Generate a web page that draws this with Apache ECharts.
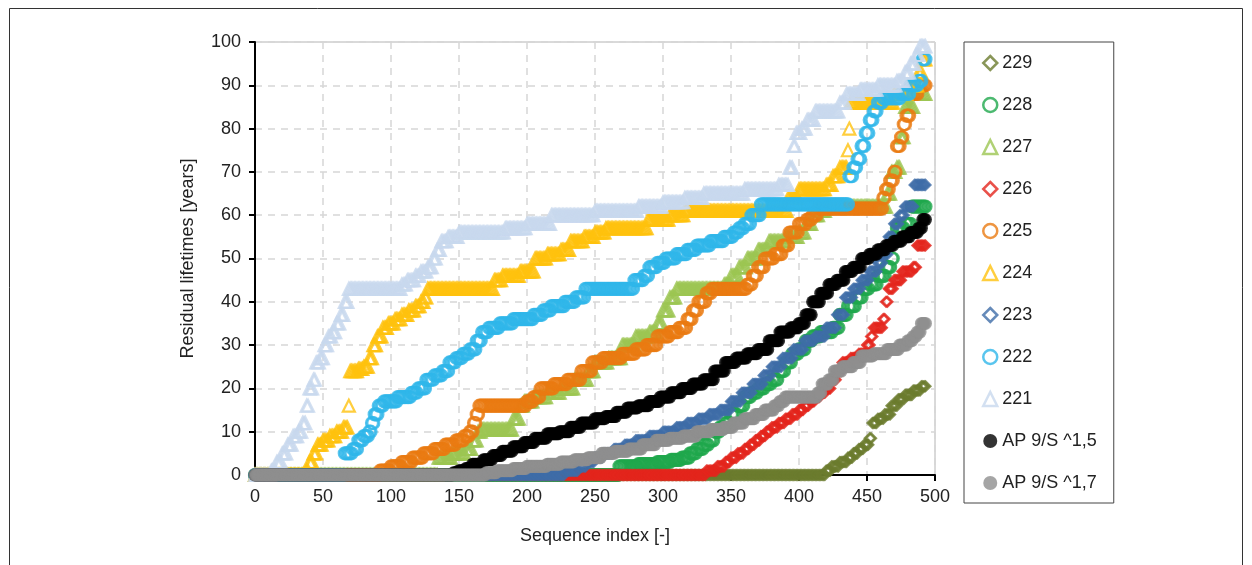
<!DOCTYPE html>
<html><head><meta charset="utf-8">
<script src="https://cdn.jsdelivr.net/npm/echarts/dist/echarts.min.js"></script>
<style>html,body{margin:0;padding:0;background:#fff}#c{width:1252px;height:565px}</style>
</head><body><div id="c"></div>
<script>
// ---- DATA (step runs: [startIndex, value]; value holds until next run start) ----
const seriesNames = ['229','228','227','226','225','224','223','222','221','AP 9/S ^1,5','AP 9/S ^1,7'];
const xTickLabels = [0,50,100,150,200,250,300,350,400,450,500];
const yTickLabels = [0,10,20,30,40,50,60,70,80,90,100];
const lastIndex = 493;

const s229 = [[0,0],[420,1],[424,2],[430,3],[436,4],[440,5],[444,6],[448,7],[452,8.5],[454,12],[458,13],[463,14],[468,16],[473,17.5],[478,18.5],[484,19.5],[490,20.5]];
const s228 = [[0,0],[268,2],[282,2.5],[296,3],[306,3.5],[314,4],[320,5],[325,6],[330,7],[334,8],[338,10],[342,11],[346,12],[350,14],[355,16],[360,18],[365,19],[370,20],[375,21],[380,22],[385,24],[390,26],[395,28],[400,29],[405,31],[410,32],[416,33],[425,34],[430,37],[436,39],[442,41],[447,43],[452,44],[458,46],[464,48],[468,50],[470,54],[472,57],[478,58],[483,62]];
const s227 = [[0,0],[135,4],[145,5],[155,6],[160,8],[164,10],[167,10.5],[190,13],[195,16],[198,17],[205,18],[215,19],[225,20],[235,22],[245,24],[250,26],[260,27],[270,30],[280,32],[290,33],[296,35],[300,38],[305,41],[310,43],[345,44],[350,46],[356,48],[362,50],[370,52],[378,54],[390,55],[400,56],[405,58],[410,60],[415,61],[420,62],[465,65],[468,70],[472,71],[475,78],[478,85],[485,88]];
const s226 = [[0,0],[332,1],[340,2],[346,3],[350,4],[355,5],[360,6],[364,7],[368,8],[372,9],[376,10],[380,11],[385,12],[390,13],[395,14],[400,15],[404,16],[408,17],[412,18],[416,19],[420,20],[424,22],[428,24],[432,26],[438,27],[444,28],[450,30],[453,32],[455,34],[462,36],[464,40],[466,43],[470,45],[476,47],[484,48],[487,53]];
const s225 = [[0,0],[92,1],[100,2],[108,3],[116,4],[124,5],[132,6],[140,7],[148,8],[154,9],[158,10],[161,12],[163,14],[165,16],[200,17],[205,18],[210,20],[220,21],[230,22],[240,24],[248,26],[256,27],[270,28],[280,29],[288,30],[296,32],[305,33],[312,34],[318,36],[322,38],[326,40],[332,42],[336,43],[362,44],[366,46],[370,48],[375,50],[382,51],[388,53],[393,56],[400,58],[406,59],[410,60],[414,61.5],[462,64],[464,66],[467,68],[470,70],[472,76],[475,78],[477,81],[479,83],[482,88],[488,90]];
const s224 = [[0,0],[38,1],[40,3],[43,5],[46,7],[50,8],[55,9],[60,10],[65,11],[69,16],[70,24],[76,24.5],[80,25],[84,27],[87,30],[90,32],[94,34],[98,35],[103,36],[108,37],[113,38],[118,39],[122,40],[125,41],[127,43],[176,45],[182,46],[195,47],[206,50],[215,51],[225,52],[232,54],[242,55],[250,56],[258,57],[289,59],[305,60],[316,61],[392,64],[400,66],[420,67],[425,69],[430,71],[436,75],[437,80],[438,86],[470,88],[480,90],[488,93],[491,96]];
const s223 = [[0,0],[228,1],[238,2],[244,3],[250,4],[256,5],[264,6],[272,7],[280,8],[290,9],[300,10],[310,11],[318,12],[326,13],[334,14],[342,15],[350,17],[358,19],[366,21],[374,23],[380,25],[388,27],[396,29],[404,31],[412,32],[420,34],[428,37],[434,41],[440,43],[446,45],[452,47],[458,49],[462,51],[466,55],[470,58],[474,60],[478,62],[485,67]];
const s222 = [[0,0],[66,5],[72,6],[76,8],[80,9],[84,10],[86,12],[88,14],[91,16],[95,17],[105,18],[115,19],[120,20],[126,22],[132,23],[138,24],[143,26],[148,27],[153,28],[158,29],[163,31],[167,33],[172,34],[180,35],[190,36],[205,37],[212,38],[218,39],[228,40],[236,41],[243,43],[279,45],[286,46],[290,48],[296,49],[302,50],[310,51],[318,52],[325,53],[335,54],[345,55],[352,56],[356,57],[360,58],[365,60],[372,62.5],[437,69],[440,71],[443,73],[446,76],[449,79],[452,82],[455,84],[458,86],[462,87],[475,88],[482,90],[488,91],[491,96]];
const s221 = [[0,0],[12,1],[16,3],[20,5],[24,7],[28,9],[32,10],[35,12],[38,16],[40,20],[43,22],[45,26],[48,27],[51,30],[54,32],[57,33],[60,35],[63,37],[66,40],[69,43],[108,44],[112,45],[118,46],[122,47],[127,48],[131,50],[134,52],[137,54],[142,55],[150,56],[184,57],[200,58],[218,60],[250,61],[282,62],[300,63],[316,64],[330,65],[360,66],[385,67],[393,71],[396,76],[398,79],[402,80],[406,82],[412,84],[430,86],[435,88],[445,89],[458,90],[472,91],[478,93],[482,95],[486,97],[489,99]];
const sAP15 = [[0,0],[146,0.5],[150,1],[155,1.5],[160,2.5],[168,3.5],[175,4.5],[182,5.5],[190,6.5],[198,7.5],[206,8.5],[215,9.5],[224,10],[232,11],[240,12],[250,13],[258,13.5],[266,14.5],[274,15.5],[282,16],[290,17],[298,18],[306,19],[314,20],[322,21],[330,22],[338,24],[346,26],[354,27],[362,28],[370,29],[378,31],[386,33],[394,34],[400,35],[405,37],[410,40],[416,42],[422,44],[428,45],[434,47],[440,48],[446,50],[452,51],[458,52],[464,53],[470,54],[476,55],[482,56],[488,57],[491,59]];
const sAP17 = [[0,0],[170,0.5],[178,1],[190,1.5],[200,2],[215,2.5],[225,3],[235,3.5],[245,4],[255,5],[265,5.5],[275,6],[285,7],[295,8],[305,8.5],[315,9],[325,10],[335,10.5],[345,11],[352,12],[360,13],[368,14],[375,15],[382,16],[386,17],[390,18],[414,19],[417,21],[422,22],[426,24],[432,25],[440,26],[446,27.5],[455,28],[465,29],[474,30],[480,31],[484,32],[487,33],[490,35]];
const seriesRuns = [s229,s228,s227,s226,s225,s224,s223,s222,s221,sAP15,sAP17];

// ---- STYLE ----
const colors = ['#6c7c2e','#1fa84c','#9cc553','#e3261d','#ea7b12','#ffc20e','#3e6da8','#2fb6ea','#c8d8ed','#000000','#8e8e8e'];
const symbols = ['diamond','circle','triangle','diamond','circle','triangle','diamond','circle','triangle','circle','circle'];
const hollow = [true,true,true,true,true,true,true,true,true,false,false];
const sizes = [10,12,12,10,12,12,10,12,12,13,13];
const FONT = '"Liberation Sans", Arial, sans-serif';

function expand(runs, last) {
  const pts = [];
  for (let k = 0; k < runs.length; k++) {
    const start = runs[k][0];
    const end = k + 1 < runs.length ? runs[k + 1][0] - 1 : last;
    for (let i = start; i <= end; i++) pts.push([i, runs[k][1]]);
  }
  return pts;
}

const series = seriesNames.map((name, i) => ({
  name: name,
  type: 'scatter',
  clip: false,
  symbol: symbols[i],
  symbolSize: sizes[i],
  itemStyle: hollow[i]
    ? { color: 'rgba(255,255,255,0)', borderColor: colors[i], borderWidth: 2.2 }
    : { color: colors[i], borderWidth: 0 },
  emphasis: { disabled: true },
  data: expand(seriesRuns[i], lastIndex)
}));

const chart = echarts.init(document.getElementById('c'), null, { renderer: 'canvas' });
chart.setOption({
  animation: false,
  backgroundColor: '#fff',
  textStyle: { fontFamily: FONT },
  grid: { left: 255, right: 317, top: 42, bottom: 90, show: true, borderColor: '#b4b4b4', borderWidth: 1, backgroundColor: 'transparent' },
  xAxis: {
    type: 'value', min: xTickLabels[0], max: xTickLabels[xTickLabels.length - 1], interval: xTickLabels[1] - xTickLabels[0],
    name: 'Sequence index [-]', nameLocation: 'middle', nameGap: 52,
    nameTextStyle: { fontSize: 18, color: '#222', fontFamily: FONT },
    axisLine: { show: true, onZero: false, lineStyle: { color: '#000', width: 2 } },
    axisTick: { show: true, inside: false, length: 6, lineStyle: { color: '#000', width: 2 } },
    axisLabel: { fontSize: 18, color: '#222', margin: 13, fontFamily: FONT },
    splitLine: { show: true, lineStyle: { color: '#d6d6d6', width: 1.5, type: [7, 6] } }
  },
  yAxis: {
    type: 'value', min: yTickLabels[0], max: yTickLabels[yTickLabels.length - 1], interval: yTickLabels[1] - yTickLabels[0],
    name: 'Residual lifetimes [years]', nameLocation: 'middle', nameGap: 58, nameRotate: 90,
    nameTextStyle: { fontSize: 18, color: '#222', fontFamily: FONT },
    axisLine: { show: true, onZero: false, lineStyle: { color: '#000', width: 2 } },
    axisTick: { show: true, inside: false, length: 6, lineStyle: { color: '#000', width: 2 } },
    axisLabel: { fontSize: 18, color: '#222', margin: 14, fontFamily: FONT },
    splitLine: { show: true, lineStyle: { color: '#d6d6d6', width: 1.5, type: [7, 6] } }
  },
  legend: {
    orient: 'vertical', left: 964, top: 42,
    padding: [12, 17, 11, 18],
    itemWidth: 14, itemHeight: 14, itemGap: 24,
    borderColor: '#444', borderWidth: 1,
    textStyle: { fontSize: 18, color: '#222', fontFamily: FONT },
    selectedMode: false,
    data: seriesNames.map((n, i) => ({
      name: n, icon: symbols[i],
      itemStyle: hollow[i]
        ? { color: 'rgba(255,255,255,0)', borderColor: colors[i], borderWidth: 2.5 }
        : { color: colors[i], borderWidth: 0 }
    }))
  },
  graphic: [{
    type: 'rect', silent: true, z: -10,
    shape: { x: 9.5, y: 8.5, width: 1233, height: 600 },
    style: { fill: 'none', stroke: '#333', lineWidth: 1 }
  }],
  series: series
});
</script>
</body></html>
